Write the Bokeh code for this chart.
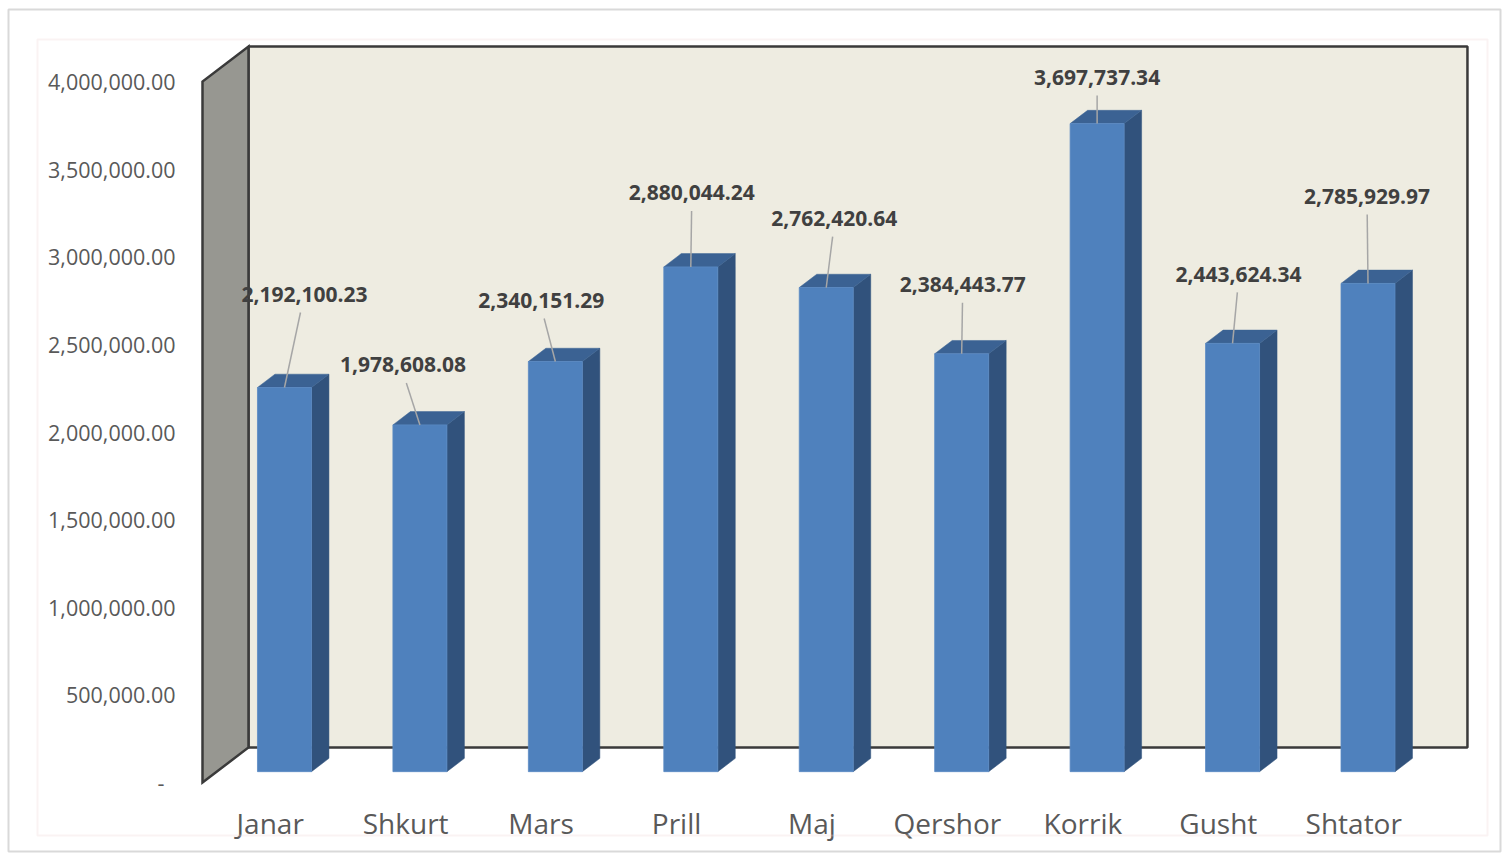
from bokeh.plotting import figure
from bokeh.models import FixedTicker, NumeralTickFormatter, BoxAnnotation, Range1d
from bokeh.embed import file_html
from bokeh.resources import INLINE
from bokeh.core.properties import value

# ---------------- data ----------------
months = ["Janar", "Shkurt", "Mars", "Prill", "Maj", "Qershor", "Korrik", "Gusht", "Shtator"]
amounts = [2192100.23, 1978608.08, 2340151.29, 2880044.24, 2762420.64,
           2384443.77, 3697737.34, 2443624.34, 2785929.97]
y_ticks = [0, 500000, 1000000, 1500000, 2000000, 2500000, 3000000, 3500000, 4000000]

# ---------------- layout / style ----------------
PX_X = 135.44          # pixels per category
PX_Y = 175.25e-6       # pixels per value unit
DX = 46 / PX_X         # depth offset (category units)
DY = 35 / PX_Y         # depth offset (value units)
HALF_W = 27 / PX_X
F1, F2 = 0.31, 0.69    # bar front/back depth fractions
WALL_TOP = y_ticks[-1]

# label offsets in pixels relative to bar front-top centre
LABEL_DX_PX = [20, -17, -14, 1, 8, 1, 0, 6, -1]
LABEL_RISE_PX = [93, 60, 61, 74, 69, 69, 46, 69, 87]

FONT = "Open Sans"
W, H = 1506, 856
FL, FR, FT, FB = 8, 1500, 9, 851      # frame (= outer border) on page
ORIGIN_X, ORIGIN_Y = 202, 782         # page pixel of (0, 0)


def px_x(px):
    return (px - ORIGIN_X) / PX_X


def px_y(py):
    return (ORIGIN_Y - py) / PX_Y


p = figure(width=W, height=H, output_backend="svg", toolbar_location=None,
           x_range=Range1d(px_x(FL), px_x(FR)),
           y_range=Range1d(px_y(FB), px_y(FT)),
           min_border_left=FL, min_border_right=W - FR,
           min_border_top=FT, min_border_bottom=H - FB)
p.outline_line_color = "#d9d9d9"
p.outline_line_width = 2
p.grid.visible = False
p.background_fill_color = "white"
p.border_fill_color = "white"

# inner (pink) chart-area border
p.add_layout(BoxAnnotation(left=px_x(37), right=px_x(1487), top=px_y(39), bottom=px_y(835),
                           fill_color=None, line_color="#efd6d6", line_width=2))

# walls
WALL_LINE = "#3a3a3a"
p.quad(left=DX, right=len(months) + DX, bottom=DY, top=WALL_TOP + DY,
       fill_color="#eeece1", line_color=WALL_LINE, line_width=2.5)
p.patch([0, DX, DX, 0], [0, DY, WALL_TOP + DY, WALL_TOP],
        fill_color="#979791", line_color=WALL_LINE, line_width=2.5, line_join="miter")

# bars
fl, fr, fb, ft = [], [], [], []
top_xs, top_ys, side_xs, side_ys = [], [], [], []
ddx, ddy = (F2 - F1) * DX, (F2 - F1) * DY
for i, v in enumerate(amounts):
    c = i + 0.5 + F1 * DX
    l, r = c - HALF_W, c + HALF_W
    b = F1 * DY
    t = b + v
    fl.append(l); fr.append(r); fb.append(b); ft.append(t)
    top_xs.append([l, r, r + ddx, l + ddx]); top_ys.append([t, t, t + ddy, t + ddy])
    side_xs.append([r, r + ddx, r + ddx, r]); side_ys.append([b, b + ddy, t + ddy, t])

p.patches(side_xs, side_ys, fill_color="#31527c", line_color="#31527c", line_width=0.5)
p.patches(top_xs, top_ys, fill_color="#3b6293", line_color="#3b6293", line_width=0.5)
p.quad(left=fl, right=fr, bottom=fb, top=ft, fill_color="#4f81bd",
       line_color="#5a8ac4", line_width=0.8)

# data labels with leader lines
lx, ly, texts, seg_x0, seg_y0, seg_x1, seg_y1 = [], [], [], [], [], [], []
for i, v in enumerate(amounts):
    cx = (fl[i] + fr[i]) / 2
    x = cx + LABEL_DX_PX[i] / PX_X
    y = ft[i] + LABEL_RISE_PX[i] / PX_Y
    lx.append(x); ly.append(y); texts.append(f"{v:,.2f}")
    seg_x0.append(x + (cx - x) * 0.2); seg_y0.append(y - 18 / PX_Y)
    seg_x1.append(cx); seg_y1.append(ft[i])

p.segment(seg_x0, seg_y0, seg_x1, seg_y1, line_color="#a6a6a6", line_width=1.5)
p.text(lx, ly, text=texts, text_align="center", text_baseline="middle",
       text_font=value(FONT), text_font_style="bold", text_font_size="21px",
       text_color="#404040")

# axes (drawn inside the frame at fixed locations)
p.yaxis.fixed_location = px_x(196)
p.yaxis.ticker = FixedTicker(ticks=y_ticks)
p.yaxis.formatter = NumeralTickFormatter(format="0,0.00")
p.yaxis.major_label_overrides = {0: "-\u00a0\u00a0"}
p.yaxis.axis_line_color = None
p.yaxis.major_tick_line_color = None
p.yaxis.minor_tick_line_color = None
p.yaxis.major_label_standoff = 15
p.yaxis.major_label_text_font = FONT
p.yaxis.major_label_text_font_size = "21.5px"
p.yaxis.major_label_text_color = "#595959"

cat_ticks = [i + 0.5 for i in range(len(months))]
p.xaxis.fixed_location = px_y(790)
p.xaxis.ticker = FixedTicker(ticks=cat_ticks)
p.xaxis.major_label_overrides = {t: m for t, m in zip(cat_ticks, months)}
p.xaxis.axis_line_color = None
p.xaxis.major_tick_line_color = None
p.xaxis.minor_tick_line_color = None
p.xaxis.major_label_standoff = 7
p.xaxis.major_label_text_font = FONT
p.xaxis.major_label_text_font_size = "28px"
p.xaxis.major_label_text_color = "#595959"

open("out.html", "w").write(file_html(p, INLINE))
